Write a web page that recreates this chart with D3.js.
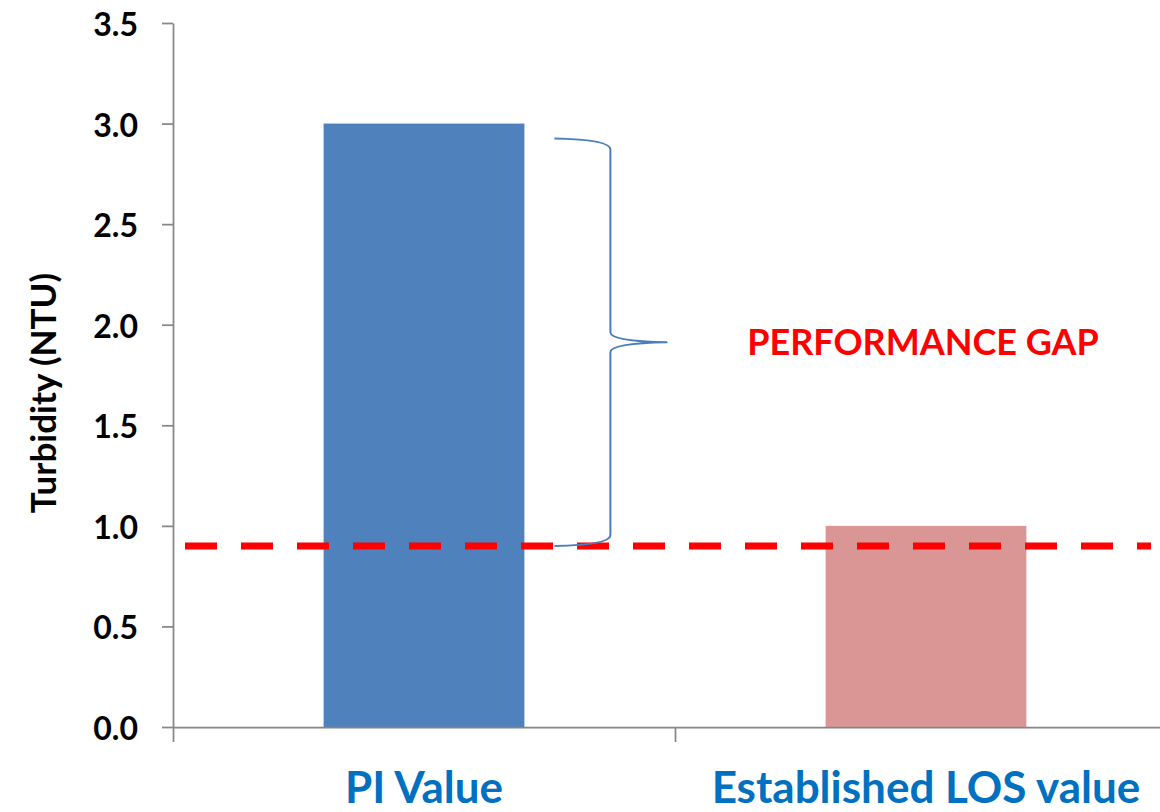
<!DOCTYPE html>
<html>
<head>
<meta charset="utf-8">
<script src="https://cdn.jsdelivr.net/npm/d3@7/dist/d3.min.js"></script>
<style>
  html, body { margin: 0; padding: 0; background: #fff; }
  svg { display: block; }
  text { font-family: Lato, "Open Sans", "Liberation Sans", sans-serif; font-weight: bold; }
</style>
</head>
<body>
<svg id="chart" width="1160" height="812"></svg>
<script>
// Turbidity: measured performance indicator vs. established level of service
const categories = ["PI Value", "Established LOS value"];
const values = [3.0, 1.0];
const barColors = ["#4F81BD", "#D99694"];
const losThreshold = 0.9;            // dashed target line
const yTicks = [0, 0.5, 1.0, 1.5, 2.0, 2.5, 3.0, 3.5];
const yTickLabels = ["0.0", "0.5", "1.0", "1.5", "2.0", "2.5", "3.0", "3.5"];
const yTitle = "Turbidity (NTU)";
const gapLabel = "PERFORMANCE GAP";

const svg = d3.select("#chart");
const plot = { left: 173, right: 1177, top: 23, bottom: 727 };
const axisGrey = "#868686";

const y = d3.scaleLinear().domain([0, 3.5]).range([plot.bottom, plot.top]);
// category slots (axis ticks sit on slot boundaries)
const slot = d3.scaleLinear().domain([0, categories.length]).range([plot.left, plot.right]);
// bars: 150% gap width
const xBar = d3.scaleBand().domain(categories).range([plot.left, plot.right])
  .paddingInner(0.6).paddingOuter(0.3);
const xCat = d3.scaleBand().domain(categories).range([plot.left, plot.right]).padding(0);

// bars
svg.append("g").selectAll("rect").data(categories).join("rect")
  .attr("x", d => xBar(d))
  .attr("width", xBar.bandwidth())
  .attr("y", (d, i) => y(values[i]))
  .attr("height", (d, i) => y(0) - y(values[i]))
  .attr("fill", (d, i) => barColors[i]);

// y axis
const yAxis = svg.append("g").attr("transform", `translate(${plot.left},0)`)
  .call(d3.axisLeft(y).tickValues(yTicks).tickSize(11).tickSizeOuter(0)
    .tickFormat((d, i) => yTickLabels[i]));
yAxis.select(".domain").attr("stroke", axisGrey).attr("stroke-width", 1.75);
yAxis.selectAll(".tick line").attr("stroke", axisGrey).attr("stroke-width", 1.75);
yAxis.selectAll(".tick text")
  .attr("x", -35).attr("dy", null)
  .attr("dominant-baseline", "central")
  .attr("fill", "#000")
  .style("font-size", "32px")
  .style("font-family", "Lato, sans-serif")
  .style("font-weight", "bold");

// x axis line with ticks on slot boundaries
const xAxis = svg.append("g").attr("transform", `translate(0,${y(0)})`)
  .call(d3.axisBottom(slot).tickValues(d3.range(categories.length + 1))
    .tickSize(15).tickSizeOuter(0).tickFormat(""));
xAxis.select(".domain").attr("stroke", axisGrey).attr("stroke-width", 1.75);
xAxis.selectAll(".tick line").attr("stroke", axisGrey).attr("stroke-width", 1.75);

// category labels
svg.append("g").selectAll("text").data(categories).join("text")
  .attr("x", d => xCat(d) + xCat.bandwidth() / 2)
  .attr("y", y(0) + 76)
  .attr("text-anchor", "middle")
  .attr("fill", "#0070C0")
  .style("font-size", "44px")
  .text(d => d);

// y axis title
svg.append("text")
  .attr("transform", `translate(42,${(plot.top + plot.bottom) / 2 + 18}) rotate(-90)`)
  .attr("text-anchor", "middle")
  .attr("dominant-baseline", "central")
  .attr("fill", "#000")
  .style("font-size", "35px")
  .text(yTitle);

// LOS threshold (dashed)
svg.append("line")
  .attr("x1", plot.left + 12).attr("x2", 1151)
  .attr("y1", y(losThreshold)).attr("y2", y(losThreshold))
  .attr("stroke", "#FF0000").attr("stroke-width", 7)
  .attr("stroke-dasharray", "32 24");

// brace spanning the gap between the PI value and the LOS threshold
const piRight = xBar(categories[0]) + xBar.bandwidth();
const bx0 = piRight + 30, bxv = piRight + 86, bxt = piRight + 143;
const bTop = y(values[0]) + 15, bBot = y(losThreshold);
const bMid = (bTop + bBot) / 2;
const bracePath = d3.path();
bracePath.moveTo(bx0, bTop);
bracePath.quadraticCurveTo(bxv, bTop + 1, bxv, bTop + 11);
bracePath.lineTo(bxv, bMid - 10);
bracePath.quadraticCurveTo(bxv, bMid - 1, bxt, bMid);
bracePath.quadraticCurveTo(bxv, bMid + 1, bxv, bMid + 10);
bracePath.lineTo(bxv, bBot - 11);
bracePath.quadraticCurveTo(bxv, bBot - 1, bx0, bBot);
svg.append("path")
  .attr("d", bracePath.toString())
  .attr("fill", "none")
  .attr("stroke", "#4A7EBB")
  .attr("stroke-width", 2);

// gap annotation
svg.append("text")
  .attr("x", xCat(categories[1]) + xCat.bandwidth() / 2 - 3)
  .attr("y", bMid + 13)
  .attr("text-anchor", "middle")
  .attr("fill", "#FF0000")
  .style("font-size", "36px")
  .text(gapLabel);
</script>
</body>
</html>
